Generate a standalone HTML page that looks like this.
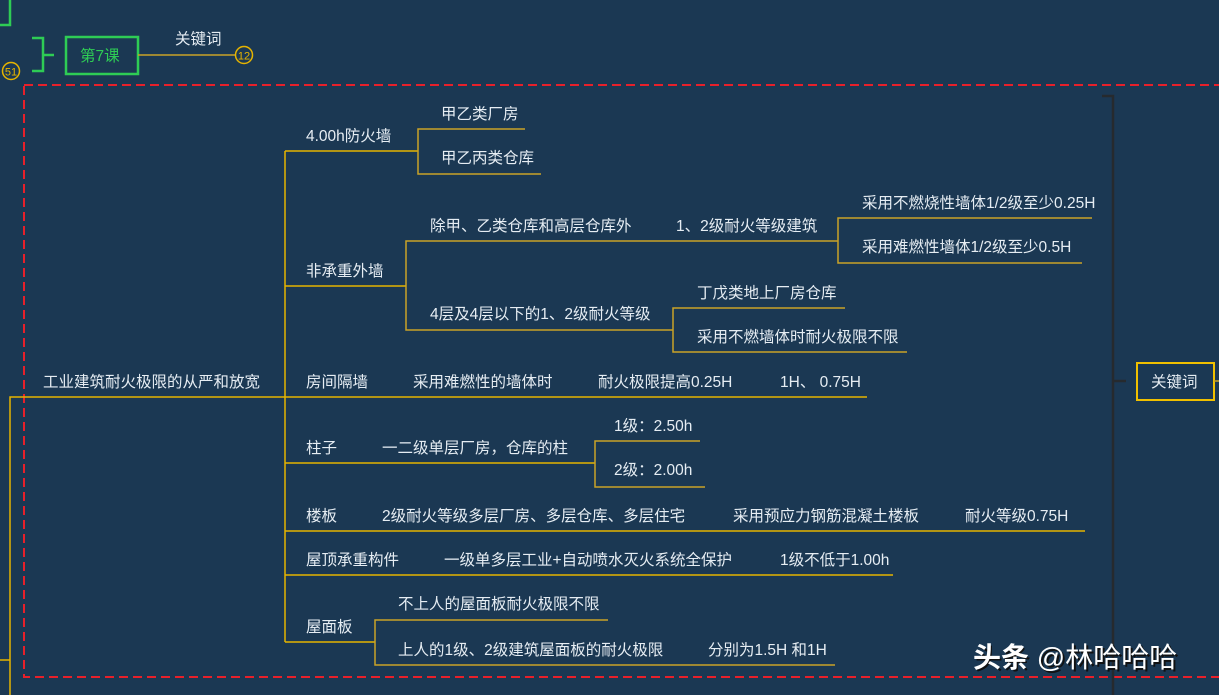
<!DOCTYPE html>
<html><head><meta charset="utf-8"><style>
html,body{margin:0;padding:0;background:#1b3853;width:1219px;height:695px;overflow:hidden}
svg{display:block}
text{font-family:"Liberation Sans","Noto Sans CJK SC",sans-serif;font-size:15.5px;fill:#e6edf3}
</style></head><body>
<svg width="1219" height="695" viewBox="0 0 1219 695" xmlns="http://www.w3.org/2000/svg">
<rect width="1219" height="695" fill="#1b3853"/>
<g stroke="#2ecc55" stroke-width="2.5" fill="none">
<polyline points="10,0 10,25 0,25"/>
<polyline points="32,38 43,38 43,71 32,71"/>
<line x1="43" y1="55" x2="54" y2="55"/>
<rect x="66" y="37" width="72" height="37"/>
</g>
<text x="80" y="61" style="fill:#2ecc55">第7课</text>
<line x1="138" y1="55" x2="236" y2="55" stroke="#c9a227" stroke-width="1.5"/>
<circle cx="244" cy="55" r="8.5" fill="none" stroke="#e6b400" stroke-width="1.5"/>
<text x="244" y="59.5" text-anchor="middle" style="font-size:11px;fill:#e6b400">12</text>
<text x="175" y="44">关键词</text>
<circle cx="11" cy="71" r="8.5" fill="none" stroke="#e6b400" stroke-width="1.5"/>
<text x="11" y="75.5" text-anchor="middle" style="font-size:11px;fill:#e6b400">51</text>
<rect x="24" y="85" width="1205" height="592" fill="none" stroke="#e8202a" stroke-width="2" stroke-dasharray="9,5"/>
<g stroke="#262a2e" stroke-width="2.5" fill="none">
<polyline points="1102,96 1113,96 1113,695"/>
<line x1="1113" y1="381" x2="1126" y2="381"/>
</g>
<rect x="1137" y="363" width="77" height="37" fill="none" stroke="#f0c000" stroke-width="2"/>
<line x1="1214" y1="381" x2="1219" y2="381" stroke="#c9a227" stroke-width="1.5"/>
<text x="1151" y="387">关键词</text>
<g stroke="#e6b400" stroke-width="1.5" fill="none">
<polyline points="10,695 10,397 285,397"/>
<line x1="285" y1="151" x2="285" y2="642"/>
<line x1="285" y1="151" x2="418" y2="151"/>
<line x1="285" y1="286" x2="406" y2="286"/>
<line x1="285" y1="397" x2="867" y2="397"/>
<line x1="285" y1="463" x2="595" y2="463"/>
<line x1="285" y1="531" x2="1085" y2="531"/>
<line x1="285" y1="575" x2="893" y2="575"/>
<line x1="285" y1="642" x2="375" y2="642"/>
<line x1="0" y1="660" x2="10" y2="660"/>
</g>
<g stroke="#c9a227" stroke-width="1.5" fill="none">
<polyline points="525,129 418,129 418,174 541,174"/>
<polyline points="838,241 406,241 406,330 673,330"/>
<polyline points="1092,218 838,218 838,263 1082,263"/>
<polyline points="845,308 673,308 673,352 907,352"/>
<polyline points="700,441 595,441 595,487 705,487"/>
<polyline points="608,620 375,620 375,665 835,665"/>
</g>
<text x="43" y="387">工业建筑耐火极限的从严和放宽</text>
<text x="306" y="141">4.00h防火墙</text>
<text x="441" y="119">甲乙类厂房</text>
<text x="441" y="163">甲乙丙类仓库</text>
<text x="306" y="276">非承重外墙</text>
<text x="430" y="231">除甲、乙类仓库和高层仓库外</text>
<text x="676" y="231">1、2级耐火等级建筑</text>
<text x="862" y="208">采用不燃烧性墙体1/2级至少0.25H</text>
<text x="862" y="252">采用难燃性墙体1/2级至少0.5H</text>
<text x="430" y="319">4层及4层以下的1、2级耐火等级</text>
<text x="697" y="298">丁戊类地上厂房仓库</text>
<text x="697" y="342">采用不燃墙体时耐火极限不限</text>
<text x="306" y="387">房间隔墙</text>
<text x="413" y="387">采用难燃性的墙体时</text>
<text x="598" y="387">耐火极限提高0.25H</text>
<text x="780" y="387">1H、 0.75H</text>
<text x="306" y="453">柱子</text>
<text x="382" y="453">一二级单层厂房，仓库的柱</text>
<text x="614" y="431">1级：2.50h</text>
<text x="614" y="475">2级：2.00h</text>
<text x="306" y="521">楼板</text>
<text x="382" y="521">2级耐火等级多层厂房、多层仓库、多层住宅</text>
<text x="733" y="521">采用预应力钢筋混凝土楼板</text>
<text x="965" y="521">耐火等级0.75H</text>
<text x="306" y="565">屋顶承重构件</text>
<text x="444" y="565">一级单多层工业+自动喷水灭火系统全保护</text>
<text x="780" y="565">1级不低于1.00h</text>
<text x="306" y="632">屋面板</text>
<text x="398" y="609">不上人的屋面板耐火极限不限</text>
<text x="398" y="655">上人的1级、2级建筑屋面板的耐火极限</text>
<text x="708" y="655">分别为1.5H 和1H</text>
<text x="975" y="669" style="font-size:28px;fill:#111">头条 @林哈哈哈</text>
<text x="973" y="667" style="font-size:28px;fill:#ffffff;font-weight:bold">头条 <tspan style="font-weight:normal">@林哈哈哈</tspan></text>
</svg>
</body></html>
